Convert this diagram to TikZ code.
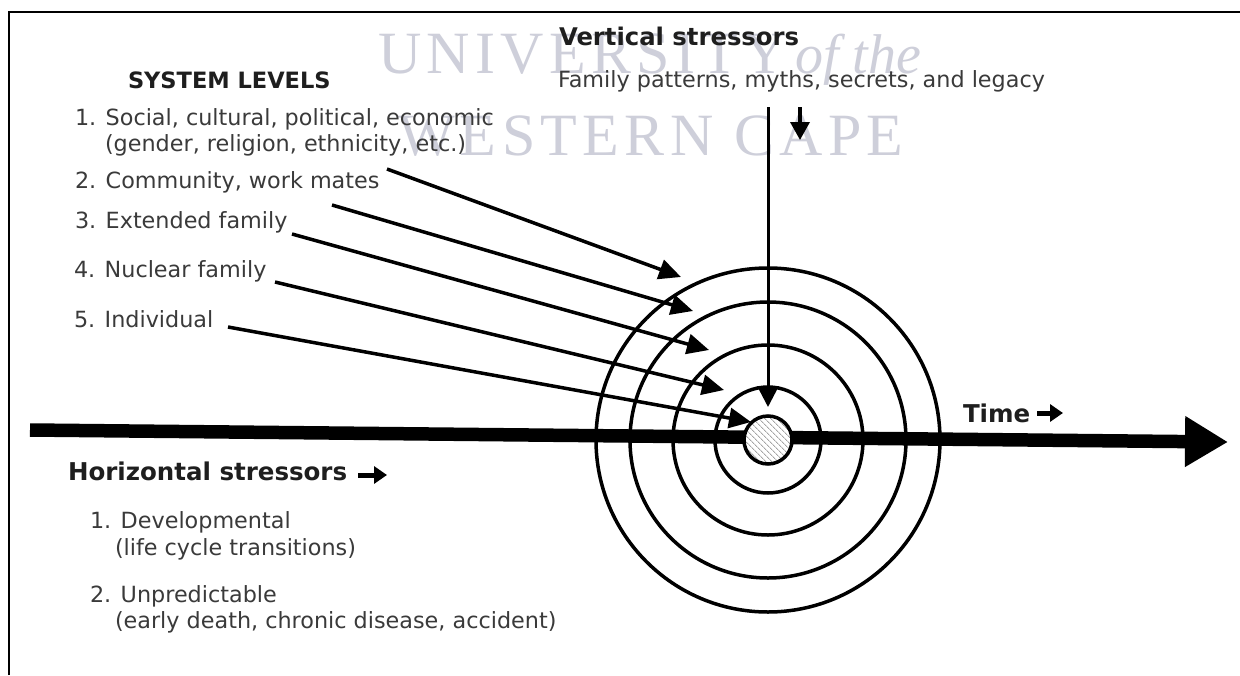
\documentclass[tikz,border=0pt]{standalone}
\usepackage{fontspec}
\setmainfont{DejaVu Sans}
\newfontfamily\wmfont{Liberation Serif}
\usetikzlibrary{arrows.meta,patterns.meta}
\definecolor{txtgray}{RGB}{58,58,58}
\definecolor{boldgray}{RGB}{30,30,30}
\definecolor{wmcolor}{RGB}{206,207,218}
\definecolor{hatchgray}{RGB}{165,165,165}
\begin{document}
\begin{tikzpicture}[x=1pt,y=-1pt,
  lbl/.style={anchor=base west, inner sep=0pt, outer sep=0pt, text=txtgray, font=\fontsize{22.3}{26}\selectfont},
  hdr/.style={anchor=base west, inner sep=0pt, outer sep=0pt, text=boldgray, font=\fontsize{24.5}{28}\selectfont\bfseries},
  wm/.style={anchor=base west, inner sep=0pt, outer sep=0pt, text=wmcolor, font=\wmfont\fontsize{60}{60}\selectfont\addfontfeature{LetterSpace=9}},
  ring/.style={circle, draw=black, line width=3.5pt, inner sep=0pt, outer sep=0pt, minimum size=#1},
  levelarrow/.style={draw=black, line width=3.5pt, -{Triangle[length=22pt,width=20pt]}},
  timeline/.style={draw=black, line width=13.5pt, -{Triangle[length=43pt,width=48pt]}},
  smallarrow/.style={draw=black, line width=5pt, -{Triangle[length=13pt,width=17pt]}},
  downarrow/.style={draw=black, line width=3.5pt, -{Triangle[length=18pt,width=19pt]}}
]
\useasboundingbox (0,0) rectangle (1240,675);
\fill[white] (0,0) rectangle (1240,675);

% watermark
\node[wm] (wm1) at (378,73) {UNIVERSITY};
\node[wm, font=\wmfont\fontsize{56}{56}\selectfont\itshape] (wm2) at (795,73) {of the};
\node[wm] (wm3) at (398,155) {WESTERN CAPE};

% border
\draw[line width=2pt] (9,675) -- (9,12) -- (1240,12);

% centre
\coordinate (c) at (768,440);

% timeline
\coordinate (hstart) at (30,430);
\coordinate (hend) at (1228,442);
\draw[timeline] (hstart) -- (hend);

% rings
\node[ring=344pt] (ring4) at (c) {};
\node[ring=276pt] (ring3) at (c) {};
\node[ring=190pt] (ring2) at (c) {};
\node[ring=106pt] (ring1) at (c) {};
\node[ring=48pt, preaction={fill=white}, pattern={Lines[angle=-45,distance=4pt,line width=0.9pt]}, pattern color=hatchgray] (core) at (c) {};

% vertical stressors arrow
\coordinate (vtop) at (768,107);
\coordinate (vtip) at (768,407);
\draw[draw=black, line width=3pt, -{Triangle[length=21pt,width=21pt]}] (vtop) -- (vtip);

% texts: system levels
\node[hdr, font=\fontsize{22.5}{26}\selectfont\bfseries] (sl) at (128,88) {SYSTEM LEVELS};
\node[lbl] (l1a) at (75,125) {1. Social, cultural, political, economic};
\node[lbl] (l1b) at (105,151) {(gender, religion, ethnicity, etc.)};
\node[lbl] (l2) at (75,188) {2. Community, work mates};
\node[lbl] (l3) at (75,228) {3. Extended family};
\node[lbl] (l4) at (74,277) {4. Nuclear family};
\node[lbl] (l5) at (74,327) {5. Individual};

% level arrows
\coordinate (s1) at (387,169); \coordinate (t1) at (681,277);
\coordinate (s2) at (332,205); \coordinate (t2) at (693,311);
\coordinate (s3) at (292,234); \coordinate (t3) at (709,350);
\coordinate (s4) at (275,282); \coordinate (t4) at (724,390);
\coordinate (s5) at (228,327); \coordinate (t5) at (751,422);
\draw[levelarrow] (s1) -- (t1);
\draw[levelarrow] (s2) -- (t2);
\draw[levelarrow] (s3) -- (t3);
\draw[levelarrow] (s4) -- (t4);
\draw[levelarrow] (s5) -- (t5);

% vertical stressors text
\node[hdr, font=\fontsize{24.3}{28}\selectfont\bfseries] (vs) at (559,45) {Vertical stressors};
\node[lbl] (vsd) at (558,87) {Family patterns, myths, secrets, and legacy};
\coordinate (da1) at (800,107); \coordinate (da2) at (800,140);
\draw[downarrow] (da1) -- (da2);

% time
\node[hdr] (time) at (963,422) {Time};
\coordinate (ta1) at (1037,413); \coordinate (ta2) at (1063,413);
\draw[smallarrow] (ta1) -- (ta2);

% horizontal stressors
\node[hdr] (hs) at (68,480) {Horizontal stressors};
\coordinate (ha1) at (358,475); \coordinate (ha2) at (387,475);
\draw[smallarrow] (ha1) -- (ha2);
\node[lbl] (h1a) at (90,528) {1. Developmental};
\node[lbl] (h1b) at (115,555) {(life cycle transitions)};
\node[lbl] (h2a) at (90,602) {2. Unpredictable};
\node[lbl] (h2b) at (115,628) {(early death, chronic disease, accident)};
\end{tikzpicture}
\end{document}
